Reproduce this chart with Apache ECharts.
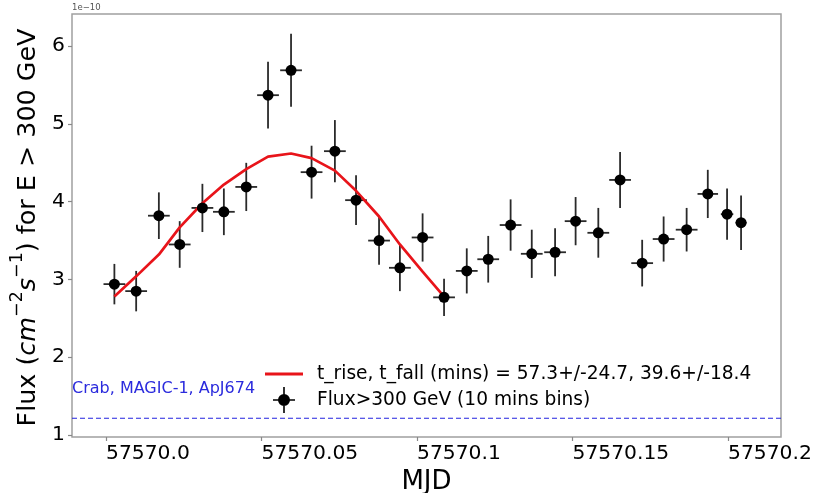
<!DOCTYPE html>
<html>
<head>
<meta charset="utf-8">
<script src="https://cdn.jsdelivr.net/npm/echarts@6/dist/echarts.min.js"></script>
<style>html,body{margin:0;padding:0;background:#fff;}#chart{width:827px;height:493px;}</style>
</head>
<body>
<div id="chart"></div>
<script>
// MJD of each 10-min bin centre
const mjd = [57570.0027, 57570.0097, 57570.0170, 57570.0237, 57570.0310, 57570.0379,
  57570.0451, 57570.0521, 57570.0595, 57570.0661, 57570.0736, 57570.0804,
  57570.0878, 57570.0945, 57570.1018, 57570.1087, 57570.1160, 57570.1229,
  57570.1301, 57570.1369, 57570.1444, 57570.1510, 57570.1583, 57570.1653,
  57570.1724, 57570.1793, 57570.1867, 57570.1935, 57570.1997, 57570.2042];
// half bin width (days)
const mjdErr = [0.0035, 0.0035, 0.0035, 0.0035, 0.0035, 0.0035, 0.0035, 0.0035,
  0.0035, 0.0035, 0.0035, 0.0035, 0.0035, 0.0035, 0.0035, 0.0035, 0.0035, 0.0035,
  0.0035, 0.0035, 0.0035, 0.0035, 0.0035, 0.0035, 0.0035, 0.0035, 0.0035, 0.0033,
  0.0020, 0.0018];
// flux (1e-10 cm^-2 s^-1)
const flux = [2.94, 2.85, 3.82, 3.45, 3.92, 3.87, 4.19, 5.37, 5.69, 4.38, 4.65, 4.02,
  3.50, 3.15, 3.54, 2.77, 3.11, 3.26, 3.70, 3.33, 3.35, 3.75, 3.60, 4.28,
  3.21, 3.52, 3.64, 4.10, 3.84, 3.73];
const fluxErr = [0.26, 0.26, 0.30, 0.30, 0.31, 0.30, 0.31, 0.43, 0.47, 0.34, 0.40, 0.32,
  0.31, 0.30, 0.31, 0.24, 0.29, 0.30, 0.33, 0.31, 0.31, 0.31, 0.32, 0.36,
  0.30, 0.29, 0.28, 0.31, 0.33, 0.35];
// fitted rise/fall profile evaluated at the first 16 bins
const fitFlux = [2.78, 3.04, 3.32, 3.67, 3.98, 4.22, 4.42, 4.58, 4.62, 4.56, 4.40, 4.14,
  3.81, 3.45, 3.10, 2.78];
const crabFlux = 1.215;
const xRange = [57569.98907, 57570.21704];
const yRange = [0.974, 6.414];
const xTicks = [57570.0, 57570.05, 57570.1, 57570.15, 57570.2];
const xTickLabels = ['57570.0', '57570.05', '57570.1', '57570.15', '57570.2'];
const yTicks = [1, 2, 3, 4, 5, 6];
const yTickLabels = ['1', '2', '3', '4', '5', '6'];

const fitName = 't_rise, t_fall (mins) = 57.3+/-24.7, 39.6+/-18.4';
const dataName = 'Flux>300 GeV (10 mins bins)';
const FONT = 'DejaVu Sans';

const points = mjd.map((x, i) => [x, flux[i]]);
const errData = mjd.map((x, i) => [x, flux[i], mjdErr[i], fluxErr[i]]);
const fitData = fitFlux.map((v, i) => [mjd[i], v]);
const crabData = xRange.map(x => [x, crabFlux]);

const markerIcon = 'path://M17,13 A6,6 0 1,1 5,13 A6,6 0 1,1 17,13 Z M0,12.2 L22,12.2 L22,13.8 L0,13.8 Z M10.2,0 L11.8,0 L11.8,26 L10.2,26 Z';
const lineIcon = 'path://M0,0 L38,0 L38,0.01 L0,0.01 Z M0,11.6 L38,11.6 L38,14.4 L0,14.4 Z M0,25.99 L38,25.99 L38,26 L0,26 Z';

const chart = echarts.init(document.getElementById('chart'), null, {renderer: 'canvas'});
chart.setOption({
  animation: false,
  backgroundColor: '#fff',
  textStyle: {fontFamily: FONT},
  grid: {left: 72, right: 46, top: 14, bottom: 56, show: true, borderColor: '#a0a0a0', borderWidth: 1.5,
         backgroundColor: 'transparent', containLabel: false, outerBoundsMode: 'none'},
  xAxis: {
    type: 'value', min: xRange[0], max: xRange[1],
    splitLine: {show: false},
    axisLine: {show: false},
    axisTick: {show: true, length: 4, lineStyle: {color: '#888', width: 1.2}, customValues: xTicks},
    axisLabel: {
      customValues: xTicks, align: 'left', margin: 7, fontSize: 20.3, color: '#000', fontFamily: FONT,
      formatter: (v) => { const i = xTicks.findIndex(t => Math.abs(t - v) < 1e-6); return i >= 0 ? xTickLabels[i] : ''; }
    },
    name: 'MJD', nameLocation: 'middle', nameGap: 22,
    nameTextStyle: {fontSize: 26, color: '#000', fontFamily: FONT}
  },
  yAxis: {
    type: 'value', min: yRange[0], max: yRange[1],
    splitLine: {show: false},
    axisLine: {show: false},
    axisTick: {show: true, length: 4, lineStyle: {color: '#888', width: 1.2}, customValues: yTicks},
    axisLabel: {
      customValues: yTicks, margin: 7, fontSize: 20.3, color: '#000', fontFamily: FONT,
      formatter: (v) => { const i = yTicks.findIndex(t => Math.abs(t - v) < 1e-6); return i >= 0 ? yTickLabels[i] : ''; }
    },
    name: '{n|Flux (}{it|cm}{sup|\u22122}{it|s}{sup|\u22121}{n|) for E > 300 GeV}',
    nameLocation: 'middle', nameGap: 14, nameRotate: 90,
    nameTextStyle: {
      fontSize: 25.4, color: '#000', fontFamily: FONT, padding: [0, 4, 0, 0],
      rich: {
        n: {fontSize: 25.4, fontFamily: FONT, color: '#000', lineHeight: 33, verticalAlign: 'bottom'},
        it: {fontSize: 25.4, fontFamily: FONT, fontStyle: 'italic', color: '#000', lineHeight: 33, verticalAlign: 'bottom'},
        sup: {fontSize: 17.5, fontFamily: FONT, color: '#000', lineHeight: 33, verticalAlign: 'top'}
      }
    }
  },
  legend: {
    orient: 'vertical', left: 260, top: 356, itemWidth: 38, itemHeight: 26, itemGap: 0,
    textStyle: {fontSize: 18.6, color: '#000', fontFamily: FONT, padding: [0, 0, 0, 9]},
    data: [{name: fitName, icon: lineIcon, itemStyle: {color: '#e8141a', opacity: 1}},
           {name: dataName, icon: markerIcon, itemStyle: {color: '#000', opacity: 1}}],
    selectedMode: false
  },
  graphic: [
    {type: 'text', left: 72, top: 3, style: {text: '1e\u221210', fontSize: 8.5, fill: '#555', fontFamily: FONT}, silent: true},
    {type: 'text', left: 72, top: 381, style: {text: 'Crab, MAGIC-1, ApJ674', fontSize: 16, fill: '#2b2bdd', fontFamily: FONT}, silent: true}
  ],
  series: [
    {
      type: 'line', name: '__crab', data: crabData, symbol: 'none', silent: true, z: 2,
      lineStyle: {color: '#2323e0', type: [5, 3], width: 1.2}
    },
    {
      type: 'custom', name: '__err', data: errData, z: 3, silent: true,
      renderItem: (params, api) => {
        const x = api.value(0), y = api.value(1), xe = api.value(2), ye = api.value(3);
        const a = api.coord([x - xe, y]), b = api.coord([x + xe, y]);
        const c = api.coord([x, y - ye]), d = api.coord([x, y + ye]);
        const st = {stroke: '#2a2a2a', lineWidth: 1.8};
        return {type: 'group', children: [
          {type: 'line', shape: {x1: a[0], y1: a[1], x2: b[0], y2: b[1]}, style: st},
          {type: 'line', shape: {x1: c[0], y1: c[1], x2: d[0], y2: d[1]}, style: st}
        ]};
      }
    },
    {
      type: 'line', name: fitName, data: fitData, symbol: 'none', z: 4,
      lineStyle: {color: '#e8141a', width: 2.7}, itemStyle: {color: '#e8141a'}
    },
    {
      type: 'scatter', name: dataName, data: points, symbol: 'circle', symbolSize: 11, z: 5,
      itemStyle: {color: '#000', opacity: 1}
    }
  ]
});
</script>
</body>
</html>
